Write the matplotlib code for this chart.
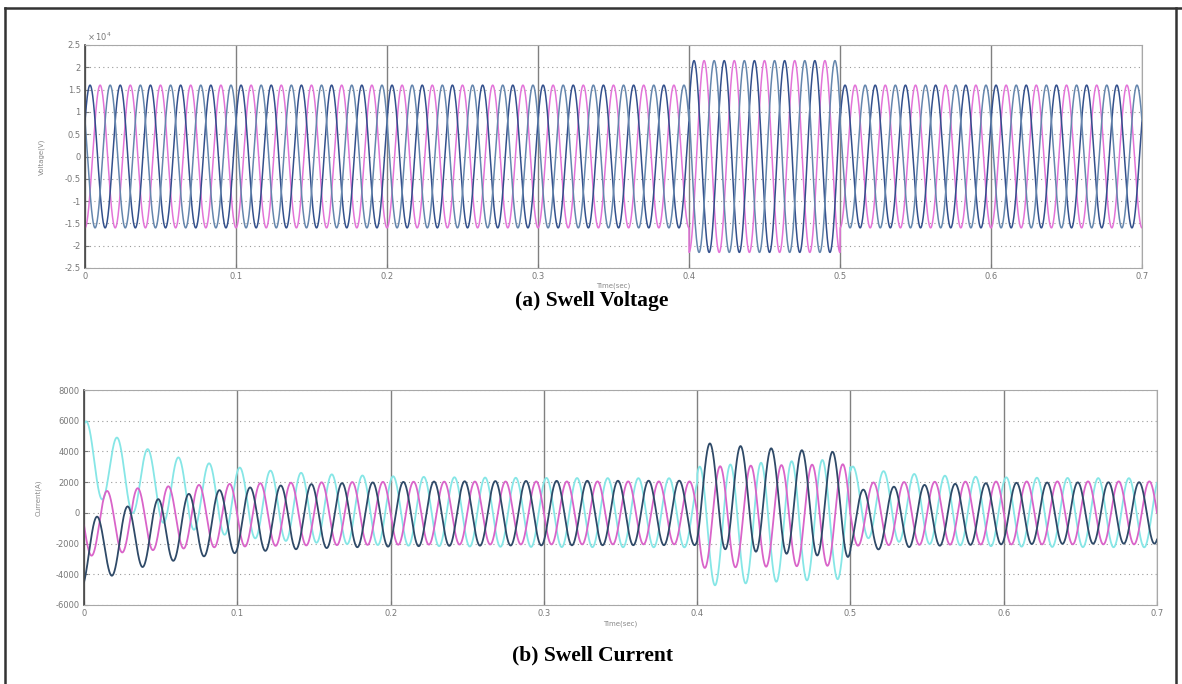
import numpy as np
import matplotlib.pyplot as plt
from matplotlib.lines import Line2D

plt.rcParams["axes.unicode_minus"] = False

# time axis and supply frequency
t_end = 0.7
freq = 50
swell_start, swell_end = 0.4, 0.5

# voltage (x 10^4 V): amplitude before/during/after the swell, phase angles (deg)
v_amp = [1.6, 2.15, 1.6]
v_phase = [30, 150, -90]
v_colors = ["#33508c", "#6586ad", "#e274d8"]

# current (A): per phase [cyan, magenta, navy]
i_colors = ["#86e6e6", "#d964c9", "#2f4a68"]
i_phase = [60, 180, -60]
i_amp = [[2250, 3900, 2250], [2050, 3300, 2050], [2100, 3400, 2000]]
i_offset = [[3800, -900, 800], [-800, -300, -100], [-2700, 1200, -600]]
i_tau = [0.06, 0.12, 0.04]

v_ticks = [2.5, 2, 1.5, 1, 0.5, 0, -0.5, -1, -1.5, -2, -2.5]
v_ticklabels = ["2.5", "2", "1.5", "1", "0.5", "0", "-0.5", "-1", "-1.5", "-2", "-2.5"]
i_ticks = [8000, 6000, 4000, 2000, 0, -2000, -4000, -6000]
x_ticks = [0, 0.1, 0.2, 0.3, 0.4, 0.5, 0.6, 0.7]
x_ticklabels = ["0", "0.1", "0.2", "0.3", "0.4", "0.5", "0.6", "0.7"]

t = np.linspace(0, t_end, 14001)
w = 2 * np.pi * freq
seg = np.where(t < swell_start, 0, np.where(t < swell_end, 1, 2))
seg_t0 = np.array([0.0, swell_start, swell_end])[seg]

W, H = 1182, 684
fig = plt.figure(figsize=(W / 100, H / 100), dpi=100)


def px_axes(x0, y0, x1, y1):
    return fig.add_axes([x0 / W, 1 - y1 / H, (x1 - x0) / W, (y1 - y0) / H])


def style(ax):
    ax.set_xlim(0, t_end)
    ax.set_xticks(x_ticks)
    ax.set_xticklabels(x_ticklabels)
    ax.tick_params(labelsize=6, colors="#777777", direction="in", length=3, pad=3)
    for s in ["top", "bottom", "right"]:
        ax.spines[s].set_color("#a8a8a8")
    ax.spines["left"].set_color("#444444")
    ax.spines["left"].set_linewidth(1.2)
    ax.xaxis.grid(True, color="#808080", lw=1.0, ls="-")
    ax.yaxis.grid(True, color="#9a9a9a", lw=0.8, ls=(0, (1, 3)))
    ax.set_axisbelow(True)


# (a) voltage
ax1 = px_axes(85, 45, 1142, 268)
for k in [2, 0, 1]:
    amp = np.array(v_amp)[seg]
    v = amp * np.sin(w * t + np.deg2rad(v_phase[k]))
    ax1.plot(t, v, color=v_colors[k], lw=1.1)
ax1.set_ylim(-2.5, 2.5)
ax1.set_yticks(v_ticks)
ax1.set_yticklabels(v_ticklabels)
style(ax1)
ax1.text(0.002, 1.01, r"$\times\,10^4$", transform=ax1.transAxes, fontsize=6, color="#777777",
         ha="left", va="bottom")
ax1.set_xlabel("Time(sec)", fontsize=5, color="#888888", labelpad=1)
ax1.set_ylabel("Voltage(V)", fontsize=5, color="#888888", labelpad=14)

# (b) current
ax2 = px_axes(84, 390, 1157, 605)
for k in range(3):
    amp = np.array(i_amp[k])[seg]
    off = np.array(i_offset[k])[seg]
    tau = np.array(i_tau)[seg]
    cur = amp * np.sin(w * t + np.deg2rad(i_phase[k])) + off * np.exp(-(t - seg_t0) / tau)
    ax2.plot(t, cur, color=i_colors[k], lw=1.3)
ax2.set_ylim(-6000, 8000)
ax2.set_yticks(i_ticks)
style(ax2)
ax2.set_xlabel("Time(sec)", fontsize=5, color="#888888", labelpad=2)
ax2.set_ylabel("Current(A)", fontsize=5, color="#888888", labelpad=10)

# captions
fig.text(592 / W, 1 - 301 / H, "(a) Swell Voltage", ha="center", va="center",
         family="Liberation Serif", weight="bold", fontsize=15.5)
fig.text(593 / W, 1 - 655 / H, "(b) Swell Current", ha="center", va="center",
         family="Liberation Serif", weight="bold", fontsize=15.5)

# outer frame
for xs, ys in [([5, 5], [8, H]), ([5, W], [8, 8]), ([1176, 1176], [8, H])]:
    fig.add_artist(Line2D([x / W for x in xs], [1 - y / H for y in ys], color="#333333", lw=1.8))

fig.savefig("out.png", dpi=100)
